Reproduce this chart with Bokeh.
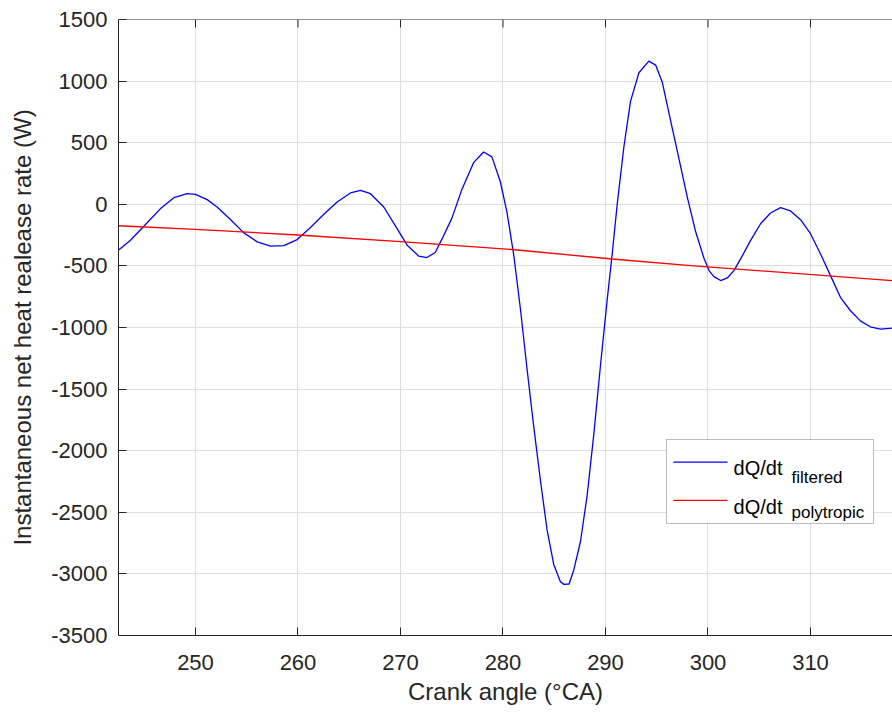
from bokeh.plotting import figure
from bokeh.models import Range1d, FixedTicker, BoxAnnotation, Span, Label
from bokeh.embed import file_html
from bokeh.resources import INLINE

# ---- data ----
blue_x = [242.5, 243.66, 244.96, 246.59, 247.89, 249.19, 250.0, 251.14, 252.11, 253.41,
          254.72, 256.02, 257.32, 258.62, 259.92, 261.22, 262.52, 263.82, 265.12, 266.1,
          267.07, 268.37, 269.67, 270.65, 271.79, 272.57, 273.39, 274.04, 275.02, 275.99,
          277.13, 278.11, 278.92, 279.74, 280.39, 281.04, 281.69, 282.35, 283.0, 283.65,
          284.3, 284.95, 285.6, 285.95, 286.45, 286.9, 287.56, 288.21, 288.86, 289.51,
          290.16, 290.65, 291.14, 291.79, 292.44, 293.26, 294.23, 294.89, 295.54, 296.35,
          297.17, 297.98, 298.79, 299.61, 300.1, 300.58, 301.23, 301.88, 302.53, 303.18,
          304.16, 305.13, 306.1, 307.08, 308.05, 309.03, 310.0, 310.97, 311.95, 312.92,
          313.9, 314.87, 315.84, 316.82, 317.95, 318.0]
blue_y = [-370, -292, -178, -35, 54, 86, 81, 38, -22, -124,
          -232, -305, -340, -335, -286, -189, -81, 19, 92, 113,
          86, -22, -197, -332, -421, -432, -391, -283, -112, 121,
          338, 425, 385, 183, -65, -407, -842, -1339, -1805, -2240,
          -2643, -2923, -3063, -3085, -3082, -2970, -2737, -2364, -1867, -1308,
          -780, -407, -3, 463, 835, 1068, 1162, 1130, 991, 680,
          369, 59, -221, -438, -538, -587, -619, -598, -538, -443,
          -293, -158, -71, -27, -54, -125, -239, -402, -579, -755,
          -864, -946, -994, -1013, -1005, -1000]

red_x = [242.44, 250.0, 260.0, 270.0, 280.88, 290.65, 298.3, 301.24, 318.0]
red_y = [-174, -204, -249, -303, -367, -444, -497, -516, -620]

x_ticks = [250, 260, 270, 280, 290, 300, 310]
y_ticks = [-3500, -3000, -2500, -2000, -1500, -1000, -500, 0, 500, 1000, 1500]

legend_labels = ["dQ/dt", "dQ/dt"]
legend_subs = ["filtered", "polytropic"]
legend_colors = ["#0000ff", "#ff0000"]

# ---- styling ----
AX = "#262626"
GRID = "#dedede"
FONT = "Liberation Sans"
Y0, Y1 = -3500, 1500

p = figure(width=892, height=714, output_backend="svg", toolbar_location=None,
           x_range=Range1d(242.49, 318.0), y_range=Range1d(Y0, Y1),
           min_border_left=118, min_border_right=0, min_border_top=19,
           min_border_bottom=79, outline_line_color=None,
           background_fill_color="white", border_fill_color="white")

for ax in (p.xaxis[0], p.yaxis[0]):
    ax.axis_line_color = AX
    ax.axis_line_width = 1
    ax.major_tick_line_color = AX
    ax.major_tick_in = 8
    ax.major_tick_out = 0
    ax.minor_tick_line_color = None
    ax.major_label_text_font = FONT
    ax.major_label_text_font_size = "22px"
    ax.major_label_text_color = AX
    ax.axis_label_text_font = FONT
    ax.axis_label_text_font_size = "24px"
    ax.axis_label_text_font_style = "normal"
    ax.axis_label_text_color = AX

p.xaxis[0].ticker = FixedTicker(ticks=x_ticks)
p.yaxis[0].ticker = FixedTicker(ticks=y_ticks)
p.yaxis[0].major_label_overrides = {t: str(t) for t in y_ticks}
p.xaxis[0].axis_label = "Crank angle (°CA)"
p.yaxis[0].axis_label = "Instantaneous net heat realease rate (W)"
p.xaxis[0].major_label_standoff = 19
p.yaxis[0].major_label_standoff = 11
p.xaxis[0].axis_label_standoff = 5
p.yaxis[0].axis_label_standoff = 12

# top border of the box with inward ticks
p.add_layout(Span(location=Y1, dimension="width", line_color=AX, line_width=1))
tick_len = 8 * (Y1 - Y0) / 616.0
p.segment(x0=x_ticks, y0=[Y1] * len(x_ticks), x1=x_ticks,
          y1=[Y1 - tick_len] * len(x_ticks), line_color=AX, line_width=1)

p.xgrid.ticker = FixedTicker(ticks=x_ticks)
p.ygrid.ticker = FixedTicker(ticks=y_ticks)
p.grid.grid_line_color = GRID
p.grid.grid_line_width = 1

p.line(blue_x, blue_y, line_color="#0000ff", line_width=1.3)
p.line(red_x, red_y, line_color="#ff0000", line_width=1.3)

# ---- legend (manual, to allow subscripts) ----
box = BoxAnnotation(left=295.95, right=316.15, top=-1909, bottom=-2591,
                    fill_color="white", fill_alpha=1.0, line_color=AX, line_width=1,
                    level="annotation")
p.add_layout(box)
row_y = [-2093, -2404]
text_y = [-2142, -2453]
sub_y = [-2215, -2498]
for i in range(2):
    p.line([296.63, 301.9], [row_y[i], row_y[i]], line_color=legend_colors[i],
           line_width=1.3, level="overlay")
    p.add_layout(Label(x=302.49, y=text_y[i], text=legend_labels[i], text_font=FONT,
                       text_font_size="20px", text_color="black",
                       text_baseline="alphabetic", level="overlay"))
    p.add_layout(Label(x=308.15, y=sub_y[i], text=legend_subs[i], text_font=FONT,
                       text_font_size="17px", text_color="black",
                       text_baseline="alphabetic", level="overlay"))

open("out.html", "w").write(file_html(p, INLINE))
